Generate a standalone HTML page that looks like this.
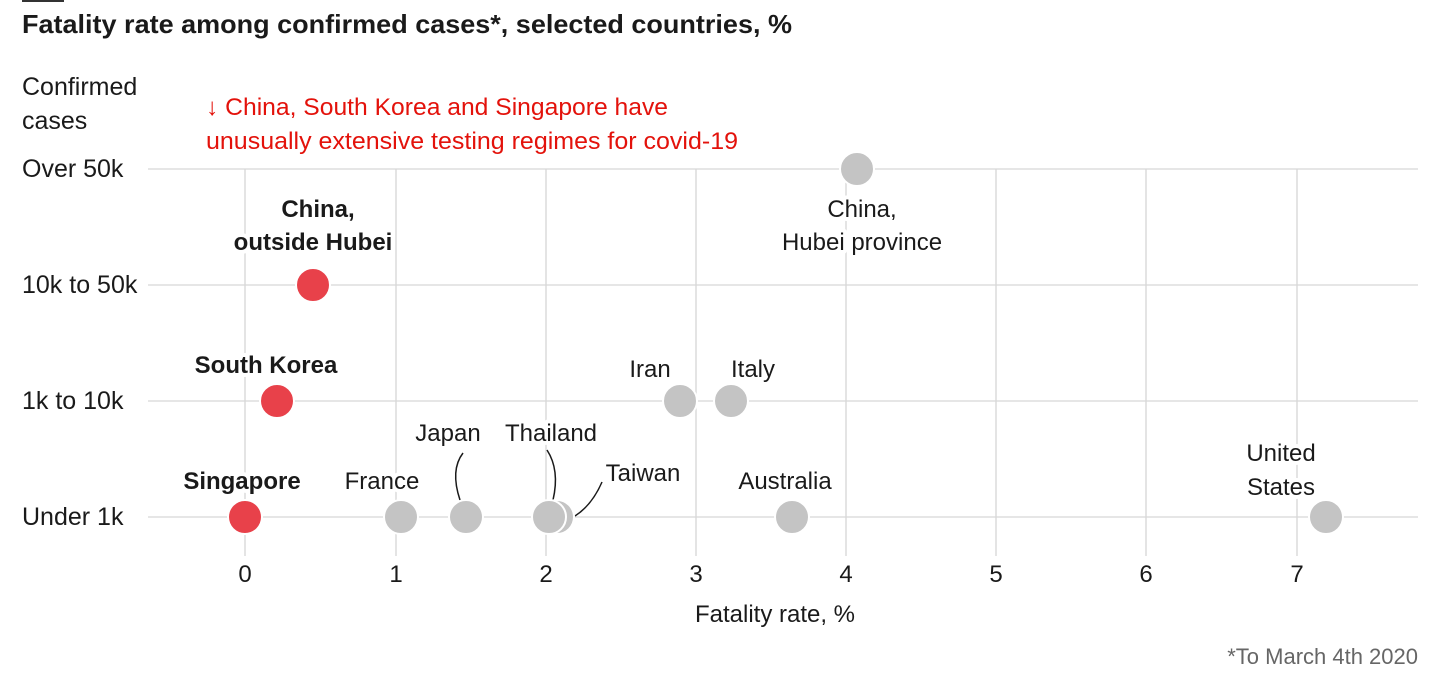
<!DOCTYPE html>
<html><head><meta charset="utf-8"><style>
body{margin:0;background:#fff;}
svg{display:block;font-family:"Liberation Sans",sans-serif;}
.h{paint-order:stroke;stroke:#fff;stroke-width:8px;stroke-linejoin:round;}
</style></head><body>
<svg width="1444" height="694" viewBox="0 0 1444 694">
<rect x="22" y="0" width="42" height="2" fill="#333"/>
<text x="22" y="33" font-size="26" font-weight="bold" fill="#1a1a1a" textLength="770" lengthAdjust="spacingAndGlyphs">Fatality rate among confirmed cases*, selected countries, %</text>
<text x="22" y="95" font-size="25" fill="#1a1a1a">Confirmed</text>
<text x="22" y="129" font-size="25" fill="#1a1a1a">cases</text>
<text x="206" y="115" font-size="24" fill="#e3120b" textLength="462" lengthAdjust="spacingAndGlyphs">↓ China, South Korea and Singapore have</text>
<text x="206" y="149" font-size="24" fill="#e3120b" textLength="532" lengthAdjust="spacingAndGlyphs">unusually extensive testing regimes for covid-19</text>
<g stroke="#d6d6d6" stroke-width="1.3">
<line x1="148" y1="169" x2="1418" y2="169"/><line x1="148" y1="285" x2="1418" y2="285"/>
<line x1="148" y1="401" x2="1418" y2="401"/><line x1="148" y1="517" x2="1418" y2="517"/>
<line x1="245" y1="169" x2="245" y2="556"/><line x1="396" y1="169" x2="396" y2="556"/>
<line x1="546" y1="169" x2="546" y2="556"/><line x1="696" y1="169" x2="696" y2="556"/>
<line x1="846" y1="169" x2="846" y2="556"/><line x1="996" y1="169" x2="996" y2="556"/>
<line x1="1146" y1="169" x2="1146" y2="556"/><line x1="1297" y1="169" x2="1297" y2="556"/>
</g>
<g font-size="25" fill="#1a1a1a">
<text x="22" y="177">Over 50k</text><text x="22" y="293">10k to 50k</text>
<text x="22" y="409">1k to 10k</text><text x="22" y="525">Under 1k</text>
</g>
<g font-size="24" fill="#1a1a1a" text-anchor="middle">
<text x="245" y="582">0</text><text x="396" y="582">1</text><text x="546" y="582">2</text><text x="696" y="582">3</text>
<text x="846" y="582">4</text><text x="996" y="582">5</text><text x="1146" y="582">6</text><text x="1297" y="582">7</text>
<text x="775" y="622">Fatality rate, %</text>
</g>
<text x="1418" y="664" font-size="22" fill="#666" text-anchor="end">*To March 4th 2020</text>
<g fill="none" stroke="#1a1a1a" stroke-width="1.5">
<path d="M463 453 Q450 470 460 500"/>
<path d="M547 450 Q560 470 553 500"/>
<path d="M602 482 Q592 505 575 516"/>
</g>
<g stroke="#fff" stroke-width="2">
<circle cx="857" cy="169" r="17" fill="#c4c4c4"/>
<circle cx="680" cy="401" r="17" fill="#c4c4c4"/>
<circle cx="731" cy="401" r="17" fill="#c4c4c4"/>
<circle cx="401" cy="517" r="17" fill="#c4c4c4"/>
<circle cx="466" cy="517" r="17" fill="#c4c4c4"/>
<circle cx="557" cy="517" r="17" fill="#c4c4c4"/>
<circle cx="549" cy="517" r="17" fill="#c4c4c4"/>
<circle cx="792" cy="517" r="17" fill="#c4c4c4"/>
<circle cx="1326" cy="517" r="17" fill="#c4c4c4"/>
<circle cx="313" cy="285" r="17" fill="#e8414a"/>
<circle cx="277" cy="401" r="17" fill="#e8414a"/>
<circle cx="245" cy="517" r="17" fill="#e8414a"/>
</g>
<g font-size="24" text-anchor="middle" fill="#1a1a1a" class="h">
<text x="862" y="217">China,</text><text x="862" y="250">Hubei province</text>
<text x="650" y="377">Iran</text><text x="753" y="377">Italy</text>
<text x="382" y="489">France</text><text x="448" y="441">Japan</text>
<text x="551" y="441">Thailand</text><text x="643" y="481">Taiwan</text>
<text x="785" y="489">Australia</text>
<text x="1281" y="461">United</text><text x="1281" y="495">States</text>
<text x="318" y="217" font-weight="bold">China,</text><text x="313" y="250" font-weight="bold">outside Hubei</text>
<text x="266" y="373" font-weight="bold">South Korea</text>
<text x="242" y="489" font-weight="bold">Singapore</text>
</g>
</svg>
</body></html>
